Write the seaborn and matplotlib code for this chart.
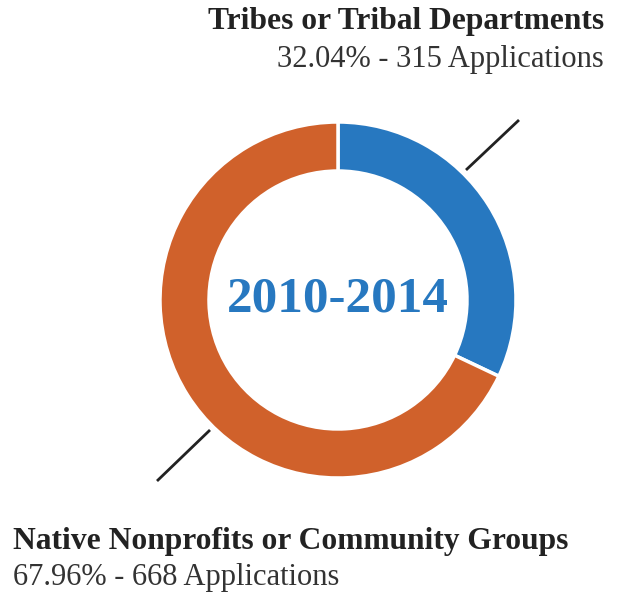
import matplotlib
matplotlib.use("Agg")
import matplotlib.pyplot as plt
import seaborn as sns

sns.set_theme(style="white")
plt.rcParams['font.family'] = ['Liberation Serif', 'DejaVu Serif']

categories = ["Tribes or Tribal Departments", "Native Nonprofits or Community Groups"]
applications = [315, 668]
percents = ["32.04%", "67.96%"]
period = "2010-2014"
colors = ["#2778c0", "#d0612b"]

W, H = 624, 597
fig = plt.figure(figsize=(W / 100, H / 100), dpi=100)
ax = fig.add_axes([0, 0, 1, 1])
ax.set_xlim(0, W)
ax.set_ylim(0, H)
ax.set_aspect("equal")
ax.axis("off")

cx, cy, R = 338, H - 300, 178
ax.pie(applications, colors=colors, startangle=90, counterclock=False,
       center=(cx, cy), radius=R,
       wedgeprops=dict(width=49, edgecolor="white", linewidth=2.5))
ax.set_xlim(0, W)
ax.set_ylim(0, H)

# leader lines
ax.plot([466, 519], [H - 170, H - 120], color="#222222", lw=2, solid_capstyle="butt")
ax.plot([210, 157], [H - 430, H - 481], color="#222222", lw=2, solid_capstyle="butt")

ax.text(cx, cy, period, ha="center", va="center", fontsize=36.8,
        fontweight="bold", color=colors[0])

ax.text(604, H - 21, categories[0], ha="right", va="center", fontsize=22.7,
        fontweight="bold", color="#222222")
ax.text(604, H - 59, f"{percents[0]} - {applications[0]} Applications",
        ha="right", va="center", fontsize=22, color="#333333")

ax.text(13, H - 541, categories[1], ha="left", va="center", fontsize=22.7,
        fontweight="bold", color="#222222")
ax.text(13, H - 578, f"{percents[1]} - {applications[1]} Applications",
        ha="left", va="center", fontsize=22, color="#333333")

fig.savefig("out.png", dpi=100)
